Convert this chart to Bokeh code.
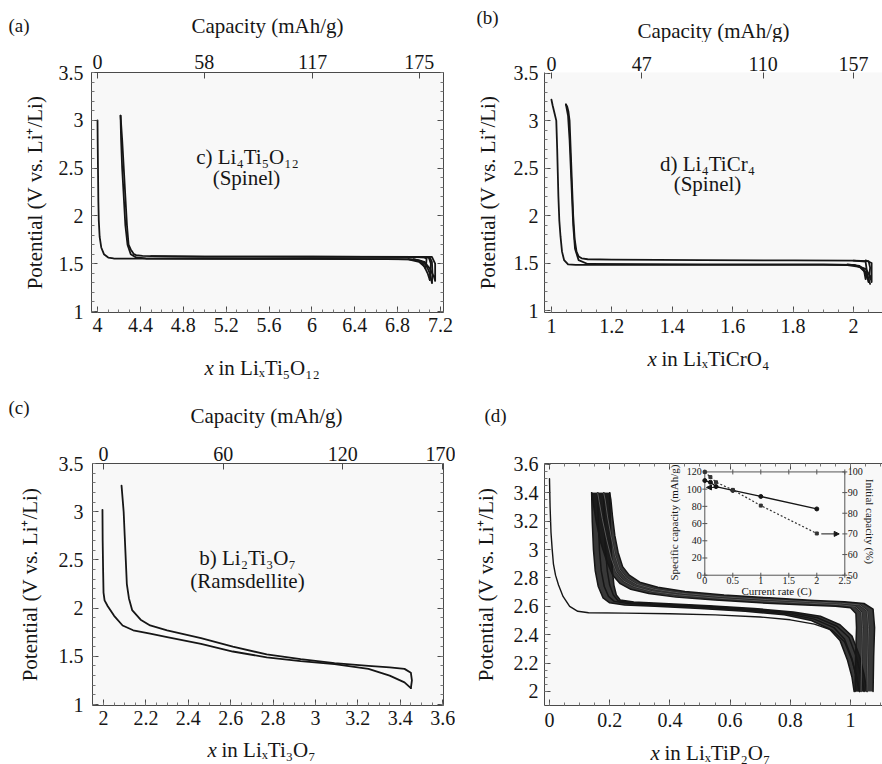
import numpy as np
from bokeh.plotting import figure
from bokeh.models import Range1d, LinearAxis, FixedTicker, Label, Arrow, NormalHead
from bokeh.layouts import row, column
from bokeh.core.properties import value
from bokeh.embed import file_html
from bokeh.resources import INLINE

FONT = "Liberation Serif"
INK = "#161616"
AX = "#4a4a4a"
BG = "#f8f8f8"
TITLE_SIZE = "21px"

# ======================= DATA =======================
v_ticks = [1, 1.5, 2, 2.5, 3, 3.5]
v_labels = ["1", "1.5", "2", "2.5", "3", "3.5"]

# ---- panel (a): Li4Ti5O12 spinel ----
a_xticks = [4, 4.4, 4.8, 5.2, 5.6, 6, 6.4, 6.8, 7.2]
a_xlabels = ["4", "4.4", "4.8", "5.2", "5.6", "6", "6.4", "6.8", "7.2"]
a_cap_ticks = [0, 58, 117, 175]
a_cap_labels = ["0", "58", "117", "175"]
a_cap_per_x = 58.3
a_x0 = 4.0
a_dis1_x = [4.000, 4.002, 4.005, 4.008, 4.012, 4.020, 4.035, 4.060, 4.100, 4.150, 4.5, 5.0, 5.5, 6.0, 6.5, 6.8, 6.95, 7.02, 7.07, 7.10, 7.12]
a_dis1_v = [3.00, 2.75, 2.45, 2.15, 1.95, 1.78, 1.67, 1.60, 1.565, 1.555, 1.553, 1.552, 1.551, 1.550, 1.549, 1.548, 1.545, 1.53, 1.48, 1.40, 1.30]
a_ch1_x = [7.12, 7.125, 7.12, 7.10, 7.0, 6.5, 6.0, 5.5, 5.0, 4.7, 4.5, 4.42, 4.36, 4.34, 4.31, 4.29, 4.275, 4.26, 4.245, 4.23, 4.215]
a_ch1_v = [1.30, 1.40, 1.52, 1.565, 1.570, 1.572, 1.573, 1.574, 1.575, 1.577, 1.580, 1.582, 1.59, 1.60, 1.65, 1.70, 1.90, 2.20, 2.50, 2.80, 3.05]
a_dis2_x = [4.215, 4.22, 4.23, 4.245, 4.26, 4.28, 4.31, 4.36, 4.45, 5.0, 6.0, 6.7, 6.9, 7.0, 7.05, 7.08, 7.10]
a_dis2_v = [3.05, 2.80, 2.50, 2.20, 1.90, 1.70, 1.60, 1.565, 1.555, 1.553, 1.551, 1.549, 1.545, 1.52, 1.47, 1.40, 1.33]
a_ch2_x = [7.10, 7.11, 7.09, 7.0, 6.0, 5.0, 4.5]
a_ch2_v = [1.33, 1.50, 1.568, 1.571, 1.573, 1.575, 1.58]
a_t1_x = [6.90, 7.00, 7.04, 7.06, 7.065, 7.07, 7.05, 6.95]
a_t1_v = [1.548, 1.53, 1.49, 1.45, 1.48, 1.55, 1.568, 1.570]
a_t2_x = [6.95, 7.05, 7.10, 7.14, 7.15, 7.15, 7.12, 7.00]
a_t2_v = [1.547, 1.52, 1.45, 1.36, 1.32, 1.50, 1.572, 1.572]

# ---- panel (b): LiTiCrO4 spinel ----
b_xticks = [1, 1.2, 1.4, 1.6, 1.8, 2]
b_xlabels = ["1", "1.2", "1.4", "1.6", "1.8", "2"]
b_cap_ticks = [0, 47, 110, 157]
b_cap_labels = ["0", "47", "110", "157"]
b_cap_per_x = 157.0
b_x0 = 1.0
b_dis1_x = [1.000, 1.004, 1.010, 1.016, 1.019, 1.021, 1.023, 1.026, 1.030, 1.035, 1.042, 1.055, 1.08, 1.3, 1.6, 1.9, 1.98, 2.02, 2.04, 2.05]
b_dis1_v = [3.22, 3.16, 3.08, 3.00, 2.70, 2.45, 2.20, 1.95, 1.78, 1.62, 1.53, 1.485, 1.48, 1.48, 1.48, 1.48, 1.478, 1.46, 1.40, 1.30]
b_ch1_x = [2.05, 2.055, 2.05, 2.0, 1.8, 1.5, 1.2, 1.12, 1.10, 1.09, 1.083, 1.077, 1.072, 1.069, 1.066, 1.063, 1.060, 1.056, 1.052, 1.048]
b_ch1_v = [1.30, 1.45, 1.52, 1.525, 1.527, 1.53, 1.535, 1.54, 1.55, 1.57, 1.62, 1.75, 2.00, 2.25, 2.50, 2.75, 3.00, 3.10, 3.15, 3.17]
b_dis2_x = [1.048, 1.055, 1.060, 1.064, 1.068, 1.072, 1.078, 1.09, 1.12, 1.5, 1.9, 2.0, 2.03, 2.045, 2.055]
b_dis2_v = [3.17, 3.05, 2.80, 2.50, 2.20, 1.90, 1.65, 1.53, 1.49, 1.485, 1.485, 1.48, 1.45, 1.38, 1.28]
b_t1_x = [1.98, 2.02, 2.035, 2.04, 2.045, 2.04, 2.0]
b_t1_v = [1.485, 1.47, 1.42, 1.33, 1.40, 1.515, 1.525]
b_t2_x = [2.0, 2.04, 2.055, 2.06, 2.06, 2.04]
b_t2_v = [1.48, 1.44, 1.36, 1.30, 1.50, 1.528]

# ---- panel (c): Li2Ti3O7 ramsdellite ----
c_xticks = [2, 2.2, 2.4, 2.6, 2.8, 3, 3.2, 3.4, 3.6]
c_xlabels = ["2", "2.2", "2.4", "2.6", "2.8", "3", "3.2", "3.4", "3.6"]
c_cap_ticks = [0, 60, 120, 170]
c_cap_labels = ["0", "60", "120", "170"]
c_cap_per_x = 106.3
c_x0 = 2.0
c_dis_x = [1.995, 1.996, 1.998, 2.000, 2.005, 2.02, 2.05, 2.09, 2.14, 2.22, 2.30, 2.46, 2.61, 2.77, 2.93, 3.09, 3.25, 3.35, 3.42, 3.45]
c_dis_v = [3.02, 2.70, 2.40, 2.16, 2.08, 2.02, 1.92, 1.82, 1.77, 1.735, 1.70, 1.63, 1.55, 1.49, 1.45, 1.42, 1.37, 1.30, 1.23, 1.17]
c_ch_x = [3.45, 3.455, 3.45, 3.42, 3.35, 3.25, 3.09, 2.93, 2.77, 2.61, 2.46, 2.30, 2.22, 2.175, 2.135, 2.12, 2.11, 2.105, 2.10, 2.095, 2.085]
c_ch_v = [1.17, 1.25, 1.33, 1.37, 1.385, 1.40, 1.43, 1.47, 1.52, 1.60, 1.69, 1.77, 1.82, 1.88, 1.98, 2.10, 2.25, 2.50, 2.75, 3.00, 3.27]

# ---- panel (d): LiTiP2O7 ----
d_xticks = [0, 0.2, 0.4, 0.6, 0.8, 1]
d_xlabels = ["0", "0.2", "0.4", "0.6", "0.8", "1"]
d_yticks = [2, 2.2, 2.4, 2.6, 2.8, 3, 3.2, 3.4, 3.6]
d_ylabels = ["2", "2.2", "2.4", "2.6", "2.8", "3", "3.2", "3.4", "3.6"]
d_first_x = [0.000, 0.002, 0.005, 0.009, 0.013, 0.02, 0.03, 0.045, 0.067, 0.094, 0.13, 0.25, 0.4, 0.55, 0.7, 0.8, 0.88, 0.94, 0.98, 1.005, 1.02, 1.03]
d_first_v = [3.50, 3.30, 3.12, 3.00, 2.90, 2.82, 2.75, 2.67, 2.60, 2.565, 2.555, 2.552, 2.548, 2.54, 2.525, 2.505, 2.475, 2.43, 2.35, 2.22, 2.10, 2.00]
d_dis = [
    ([0.140, 0.142, 0.146, 0.152, 0.162, 0.178, 0.20, 0.25, 0.35, 0.50, 0.65, 0.78, 0.87, 0.93, 0.965, 0.99, 1.005, 1.012],
     [3.40, 3.20, 3.00, 2.85, 2.74, 2.66, 2.625, 2.61, 2.60, 2.585, 2.565, 2.54, 2.50, 2.44, 2.36, 2.22, 2.10, 2.00]),
    ([0.160, 0.162, 0.166, 0.172, 0.182, 0.196, 0.215, 0.26, 0.36, 0.51, 0.66, 0.79, 0.88, 0.945, 0.98, 1.005, 1.02, 1.03],
     [3.40, 3.20, 3.00, 2.85, 2.74, 2.67, 2.635, 2.62, 2.608, 2.593, 2.573, 2.548, 2.51, 2.45, 2.37, 2.23, 2.10, 2.00]),
    ([0.180, 0.182, 0.186, 0.192, 0.200, 0.212, 0.228, 0.27, 0.37, 0.52, 0.67, 0.80, 0.89, 0.955, 0.995, 1.02, 1.035, 1.045],
     [3.40, 3.20, 3.00, 2.85, 2.75, 2.68, 2.64, 2.625, 2.615, 2.60, 2.58, 2.555, 2.52, 2.46, 2.38, 2.24, 2.11, 2.00]),
    ([0.200, 0.202, 0.205, 0.209, 0.214, 0.222, 0.235, 0.28, 0.38, 0.53, 0.68, 0.81, 0.90, 0.965, 1.005, 1.03, 1.045, 1.055],
     [3.40, 3.20, 3.00, 2.85, 2.75, 2.68, 2.645, 2.63, 2.62, 2.605, 2.585, 2.56, 2.53, 2.47, 2.39, 2.25, 2.12, 2.00]),
]
d_ch = [
    ([1.015, 1.017, 1.020, 1.018, 1.000, 0.95, 0.85, 0.70, 0.55, 0.42, 0.33, 0.27, 0.235, 0.21, 0.19, 0.17, 0.155, 0.145, 0.140],
     [2.00, 2.25, 2.45, 2.55, 2.59, 2.60, 2.61, 2.625, 2.645, 2.665, 2.69, 2.72, 2.76, 2.82, 2.92, 3.05, 3.20, 3.33, 3.40]),
    ([1.035, 1.037, 1.040, 1.036, 1.015, 0.96, 0.86, 0.71, 0.56, 0.43, 0.34, 0.28, 0.245, 0.222, 0.205, 0.19, 0.175, 0.165, 0.16],
     [2.00, 2.25, 2.45, 2.56, 2.60, 2.612, 2.622, 2.637, 2.657, 2.68, 2.705, 2.74, 2.78, 2.84, 2.94, 3.07, 3.22, 3.34, 3.40]),
    ([1.055, 1.057, 1.060, 1.055, 1.03, 0.97, 0.87, 0.72, 0.57, 0.44, 0.35, 0.29, 0.255, 0.233, 0.218, 0.205, 0.193, 0.185, 0.18],
     [2.00, 2.25, 2.45, 2.57, 2.61, 2.622, 2.632, 2.648, 2.668, 2.692, 2.72, 2.755, 2.80, 2.86, 2.96, 3.09, 3.23, 3.35, 3.40]),
    ([1.075, 1.077, 1.080, 1.075, 1.045, 0.98, 0.88, 0.73, 0.58, 0.45, 0.36, 0.30, 0.265, 0.243, 0.228, 0.217, 0.209, 0.204, 0.20],
     [2.00, 2.25, 2.45, 2.58, 2.62, 2.632, 2.642, 2.66, 2.68, 2.705, 2.735, 2.77, 2.82, 2.88, 2.98, 3.10, 3.24, 3.35, 3.40]),
]
# inset of (d): rate capability
inset_rate = [0.0, 0.1, 0.2, 0.5, 1.0, 2.0]
inset_cap = [110, 108, 103, 98.5, 91.5, 77]
inset_pct = [100, 97.5, 95, 91.3, 83.7, 70.2]
inset_rate_ticks = [0, 0.5, 1, 1.5, 2, 2.5]
inset_rate_labels = ["0", "0.5", "1", "1.5", "2", "2.5"]
inset_cap_ticks = [0, 20, 40, 60, 80, 100, 120]
inset_cap_labels = ["0", "20", "40", "60", "80", "100", "120"]
inset_pct_ticks = [50, 60, 70, 80, 90, 100]
inset_pct_labels = ["50", "60", "70", "80", "90", "100"]
arrow_cap = ([0.26, 0.03], 102)
arrow_pct = ([2.08, 2.40], 70)

# ======================= HELPERS =======================
def minor(a, b, step):
    return [round(v, 4) for v in np.arange(a, b + step / 2, step)]


def style_axis(ax, ticks, labels, minors, standoff, line=True, size="20px"):
    ax.ticker = FixedTicker(ticks=ticks, minor_ticks=minors)
    ax.major_label_overrides = {t: l for t, l in zip(ticks, labels)}
    ax.major_label_text_font = FONT
    ax.major_label_text_font_size = size
    ax.major_label_text_color = INK
    ax.major_label_standoff = standoff
    ax.major_tick_in = 6
    ax.major_tick_out = 0
    ax.minor_tick_in = 3
    ax.minor_tick_out = 0
    ax.major_tick_line_color = AX
    ax.minor_tick_line_color = "#777777"
    ax.axis_line_color = AX if line else None
    ax.axis_label = None


def y_title(ax, standoff):
    ax.axis_label = "Potential (V vs. Li\u207a/Li)"
    ax.axis_label_text_font = FONT
    ax.axis_label_text_font_size = TITLE_SIZE
    ax.axis_label_text_font_style = "normal"
    ax.axis_label_text_color = INK
    ax.axis_label_standoff = standoff


def make_fig(w, h, xr, yr, mb, outline):
    p = figure(width=w, height=h, x_range=Range1d(*xr), y_range=Range1d(*yr),
               output_backend="svg", toolbar_location=None, title=None,
               min_border_left=mb[0], min_border_right=mb[1],
               min_border_top=mb[2], min_border_bottom=mb[3])
    p.grid.visible = False
    p.background_fill_color = BG
    p.border_fill_color = "white"
    p.outline_line_color = AX if outline else None
    return p


def make_strip(w, h):
    s = figure(width=w, height=h, x_range=Range1d(0, w), y_range=Range1d(0, h),
               output_backend="svg", toolbar_location=None, title=None,
               min_border=0, x_axis_location=None, y_axis_location=None)
    s.grid.visible = False
    s.outline_line_color = None
    s.background_fill_color = "white"
    s.border_fill_color = "white"
    return s


class Frame:
    """Place text by page coordinates, relative to a frame's left / bottom."""
    def __init__(self, p, left, bottom):
        self.p, self.left, self.bottom = p, left, bottom

    def label(self, gx, gy, text, size=TITLE_SIZE, angle=0.0, style="normal",
              align="center", baseline="middle"):
        self.p.add_layout(Label(x=gx - self.left, y=self.bottom - gy,
                                x_units="screen", y_units="screen", text=text,
                                text_font=FONT, text_font_size=size,
                                text_font_style=style, text_align=align,
                                text_baseline=baseline, angle=angle,
                                text_color=INK))

    def xtitle(self, gx, gy, rest):
        self.label(gx, gy, "x", style="italic", align="left")
        self.label(gx + 14, gy, rest, align="left")


def add_cap_axis(p, xr, x0, k, ticks, labels, standoff):
    p.extra_x_ranges = {"cap": Range1d((xr[0] - x0) * k, (xr[1] - x0) * k)}
    ax = LinearAxis(x_range_name="cap")
    style_axis(ax, ticks, labels, [], standoff, line=False)
    p.add_layout(ax, "above")


def add_right_axis(p, ticks, minors):
    ax = LinearAxis()
    style_axis(ax, ticks, [""] * len(ticks), minors, 0, line=False, size="1px")
    p.add_layout(ax, "right")


def curve(p, x, y, w=1.8, color=INK):
    p.line(x, y, line_color=color, line_width=w, line_join="round", line_cap="round")


v_minor = minor(1.0, 3.5, 0.1)

# ======================= PAGE STRIPS (text outside frames) =======================
s1 = make_strip(882, 42)      # page y 0..42
s2 = make_strip(882, 84)      # page y 348..432
s3 = make_strip(882, 28)      # page y 736..764
t1 = Frame(s1, 0, 42)
t2 = Frame(s2, 0, 432)
t3 = Frame(s3, 0, 764)

t1.label(8, 25, "(a)", size="19px", align="left")
t1.label(267, 25, "Capacity (mAh/g)")
t1.label(476, 17, "(b)", size="19px", align="left")
t1.label(713, 30, "Capacity (mAh/g)")

t2.xtitle(204, 367, "in Li\u2093Ti\u2085O\u2081\u2082")
t2.xtitle(647, 358, "in Li\u2093TiCrO\u2084")
t2.label(8, 407, "(c)", size="19px", align="left")
t2.label(266, 415, "Capacity (mAh/g)")
t2.label(484, 415, "(d)", size="19px", align="left")

t3.xtitle(207, 749, "in Li\u2093Ti\u2083O\u2087")
t3.xtitle(650, 752, "in Li\u2093TiP\u2082O\u2087")

# ======================= PANEL (a) =======================
a_xr = (3.944, 7.228)
pa = make_fig(455, 306, a_xr, (0.99, 3.5), (91, 12, 29, 30), True)
style_axis(pa.xaxis[0], a_xticks, a_xlabels, minor(4.0, 7.2, 0.1), 5, line=False)
style_axis(pa.yaxis[0], v_ticks, v_labels, v_minor, 8, line=False)
y_title(pa.yaxis[0], 9)
add_cap_axis(pa, a_xr, a_x0, a_cap_per_x, a_cap_ticks, a_cap_labels, 4)
add_right_axis(pa, v_ticks, v_minor)
for xs, ys in [(a_dis1_x, a_dis1_v), (a_ch1_x, a_ch1_v), (a_dis2_x, a_dis2_v),
               (a_ch2_x, a_ch2_v), (a_t1_x, a_t1_v), (a_t2_x, a_t2_v)]:
    curve(pa, xs, ys)
fa = Frame(pa, 91, 318)
fa.label(247, 162, "c) Li\u2084Ti\u2085O\u2081\u2082")
fa.label(246, 183, "(Spinel)")

# ======================= PANEL (b) =======================
b_xr = (0.977, 2.096)
pb = make_fig(427, 306, b_xr, (0.979, 3.507), (89, 0, 30, 36), False)
style_axis(pb.xaxis[0], b_xticks, b_xlabels, minor(1.0, 2.05, 0.05), 6)
style_axis(pb.yaxis[0], v_ticks, v_labels, v_minor, 6)
y_title(pb.yaxis[0], 11)
add_cap_axis(pb, b_xr, b_x0, b_cap_per_x, b_cap_ticks, b_cap_labels, 2)
pb.xaxis[1].axis_line_color = AX
for xs, ys in [(b_dis1_x, b_dis1_v), (b_ch1_x, b_ch1_v), (b_dis2_x, b_dis2_v),
               (b_t1_x, b_t1_v), (b_t2_x, b_t2_v)]:
    curve(pb, xs, ys)
fb = Frame(pb, 544, 312)
fb.label(707, 163, "d) Li\u2084TiCr\u2084")
fb.label(707, 183, "(Spinel)")

# ======================= PANEL (c) =======================
c_xr = (1.948, 3.604)
pc = make_fig(455, 304, c_xr, (0.99, 3.5), (92, 12, 31, 31), True)
style_axis(pc.xaxis[0], c_xticks, c_xlabels, minor(2.0, 3.6, 0.05), 5, line=False)
style_axis(pc.yaxis[0], v_ticks, v_labels, v_minor, 9, line=False)
y_title(pc.yaxis[0], 14)
add_cap_axis(pc, c_xr, c_x0, c_cap_per_x, c_cap_ticks, c_cap_labels, 3)
add_right_axis(pc, v_ticks, v_minor)
curve(pc, c_dis_x, c_dis_v)
curve(pc, c_ch_x, c_ch_v)
fc = Frame(pc, 92, 705)
fc.label(247, 557, "b) Li\u2082Ti\u2083O\u2087")
fc.label(247, 580, "(Ramsdellite)")

# ======================= PANEL (d) =======================
d_xr = (-0.0166, 1.1063)
pd = make_fig(427, 304, d_xr, (1.901, 3.607), (89, 0, 31, 31), False)
style_axis(pd.xaxis[0], d_xticks, d_xlabels, minor(0.0, 1.1, 0.05), 7)
style_axis(pd.yaxis[0], d_yticks, d_ylabels, minor(2.0, 3.6, 0.05), 6)
y_title(pd.yaxis[0], 13)
top_d = LinearAxis()
style_axis(top_d, d_xticks, [""] * len(d_xticks), minor(0.0, 1.1, 0.05), 0, size="1px")
pd.add_layout(top_d, "above")

# dense bands of the repeated cycles (envelopes of the outer cycles)
up_x = d_ch[0][0] + d_ch[-1][0][::-1]
up_v = d_ch[0][1] + d_ch[-1][1][::-1]
lo_x = d_dis[0][0] + d_dis[-1][0][::-1]
lo_v = d_dis[0][1] + d_dis[-1][1][::-1]
pd.patch(up_x, up_v, fill_color=INK, fill_alpha=0.85, line_color=None)
pd.patch(lo_x, lo_v, fill_color=INK, fill_alpha=0.85, line_color=None)
curve(pd, d_first_x, d_first_v, w=1.4)
for xs, ys in d_dis + d_ch:
    curve(pd, xs, ys, w=1.5)
# faint streaks inside the dense charge band
for xs, ys in (d_ch[1], d_ch[2]):
    curve(pd, xs, ys, w=0.5, color="#9a9a9a")

# inset, drawn through its own ranges mapped onto the inset box
pd.extra_x_ranges = {"cr": Range1d(-2.8625, 3.173)}
pd.extra_y_ranges = {"cap": Range1d(-151.4, 129.8), "pct": Range1d(-13.08, 104.08)}
pd.quad(left=[inset_rate_ticks[0]], right=[inset_rate_ticks[-1]],
        bottom=[inset_cap_ticks[0]], top=[inset_cap_ticks[-1]],
        x_range_name="cr", y_range_name="cap",
        fill_color="#fbfbfb", line_color="#555555", line_width=1)
n_cap = len(inset_cap_ticks)
n_rate = len(inset_rate_ticks)
n_pct = len(inset_pct_ticks)
pd.scatter([inset_rate_ticks[0]] * n_cap, inset_cap_ticks, marker="dash", size=5,
           line_color="#555555", x_range_name="cr", y_range_name="cap")
pd.scatter(inset_rate_ticks, [inset_cap_ticks[0]] * n_rate, marker="dash",
           angle=np.pi / 2, size=5, line_color="#555555", x_range_name="cr", y_range_name="cap")
pd.scatter(inset_rate_ticks, [inset_cap_ticks[-1]] * n_rate, marker="dash",
           angle=np.pi / 2, size=5, line_color="#555555", x_range_name="cr", y_range_name="cap")
pd.scatter([inset_rate_ticks[-1]] * n_pct, inset_pct_ticks, marker="dash",
           size=5, line_color="#555555", x_range_name="cr", y_range_name="pct")
pd.text(x=[inset_rate_ticks[0]] * n_cap, y=inset_cap_ticks, text=inset_cap_labels,
        x_offset=-3, text_align="right", text_baseline="middle",
        text_font=value(FONT), text_font_size="10px", text_color=INK,
        x_range_name="cr", y_range_name="cap")
pd.text(x=inset_rate_ticks, y=[inset_cap_ticks[0]] * n_rate, text=inset_rate_labels,
        y_offset=2, text_align="center", text_baseline="top",
        text_font=value(FONT), text_font_size="10px", text_color=INK,
        x_range_name="cr", y_range_name="cap")
pd.text(x=[inset_rate_ticks[-1]] * n_pct, y=inset_pct_ticks, text=inset_pct_labels,
        x_offset=3, text_align="left", text_baseline="middle",
        text_font=value(FONT), text_font_size="10px", text_color=INK,
        x_range_name="cr", y_range_name="pct")
pd.line(inset_rate, inset_cap, line_color=INK, line_width=1.3, x_range_name="cr", y_range_name="cap")
pd.scatter(inset_rate, inset_cap, marker="circle", size=4, fill_color=INK, line_color=INK,
           x_range_name="cr", y_range_name="cap")
pd.line(inset_rate, inset_pct, line_color="#333333", line_width=1.2, line_dash="2 2",
        x_range_name="cr", y_range_name="pct")
pd.scatter(inset_rate, inset_pct, marker="square", size=3, fill_color="#333333",
           line_color="#333333", x_range_name="cr", y_range_name="pct")
pd.add_layout(Arrow(x_start=arrow_cap[0][0], x_end=arrow_cap[0][1], y_start=arrow_cap[1],
                    y_end=arrow_cap[1], x_range_name="cr", y_range_name="cap",
                    line_color=INK, line_width=1,
                    end=NormalHead(size=5, fill_color=INK, line_color=INK)))
pd.add_layout(Arrow(x_start=arrow_pct[0][0], x_end=arrow_pct[0][1], y_start=arrow_pct[1],
                    y_end=arrow_pct[1], x_range_name="cr", y_range_name="pct",
                    line_color=INK, line_width=1,
                    end=NormalHead(size=5, fill_color=INK, line_color=INK)))

fd = Frame(pd, 544, 705)
fd.label(673, 522, "Specific capacity (mAh/g)", size="11px", angle=np.pi / 2)
fd.label(776, 590, "Current rate (C)", size="11px")
fd.label(869, 521, "Initial capacity (%)", size="11px", angle=-np.pi / 2)

layout = column(s1, row(pa, pb), s2, row(pc, pd), s3)
open("out.html", "w").write(file_html(layout, INLINE))
